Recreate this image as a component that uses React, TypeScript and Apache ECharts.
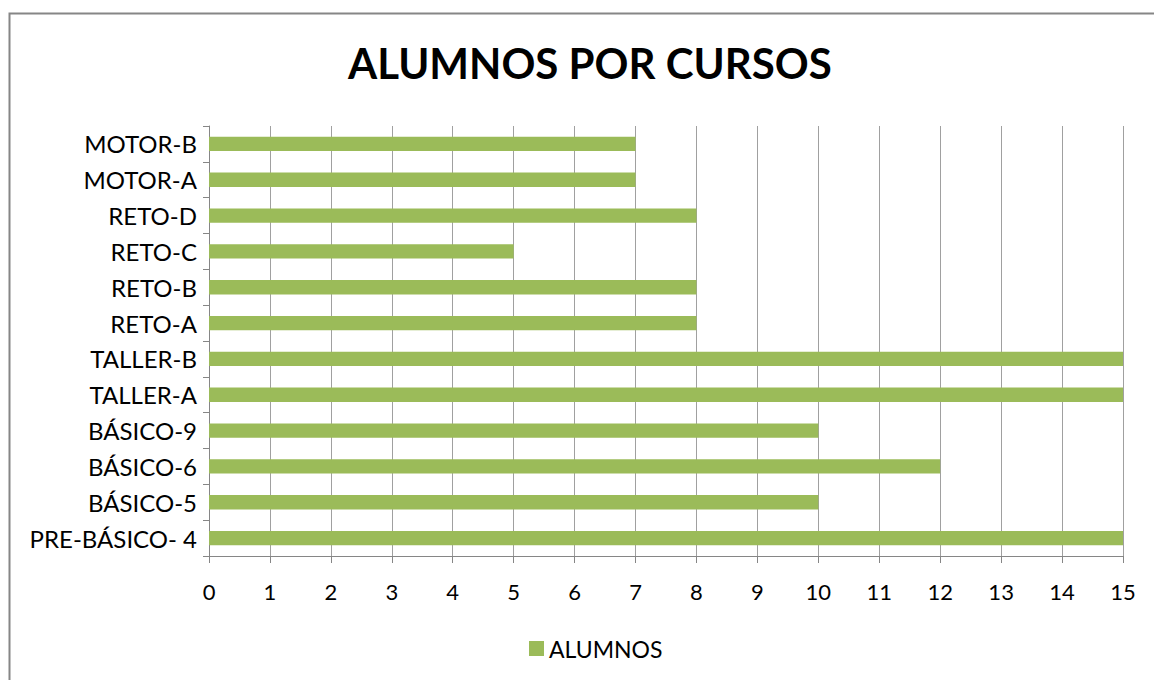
import React, { useEffect, useRef } from "react";
import * as echarts from "echarts";

const categories = [
  "PRE-BÁSICO- 4",
  "BÁSICO-5",
  "BÁSICO-6",
  "BÁSICO-9",
  "TALLER-A",
  "TALLER-B",
  "RETO-A",
  "RETO-B",
  "RETO-C",
  "RETO-D",
  "MOTOR-A",
  "MOTOR-B",
];
const alumnos = [15, 10, 12, 10, 15, 15, 8, 8, 5, 8, 7, 7];
const seriesName = "ALUMNOS";
const titleText = "ALUMNOS POR CURSOS";

const FONT = "Lato, 'Open Sans', sans-serif";

export default function App() {
  const ref = useRef<HTMLDivElement>(null);
  useEffect(() => {
    if (!ref.current) return;
    const chart = echarts.init(ref.current, undefined, { renderer: "svg" });
    chart.setOption({
      animation: false,
      backgroundColor: "#ffffff",
      title: {
        text: titleText,
        left: 343,
        top: 37,
        textStyle: { fontFamily: FONT, fontSize: 42, fontWeight: "bold", color: "#000" },
      },
      legend: {
        data: [seriesName],
        left: 524,
        top: 632,
        icon: "rect",
        itemWidth: 15,
        itemHeight: 15,
        itemGap: 6,
        textStyle: { fontFamily: FONT, fontSize: 23, color: "#000" },
      },
      grid: { left: 209, right: 31, top: 126, bottom: 124, containLabel: false },
      xAxis: {
        type: "value",
        min: 0,
        max: 15,
        interval: 1,
        axisLine: { show: true, lineStyle: { color: "#868686", width: 1 } },
        axisTick: { show: true, length: 7, lineStyle: { color: "#868686" } },
        axisLabel: { fontFamily: FONT, fontSize: 22, color: "#000", margin: 24 },
        splitLine: { show: true, lineStyle: { color: "#a0a0a0", width: 1 } },
      },
      yAxis: {
        type: "category",
        data: categories,
        axisLine: { show: true, lineStyle: { color: "#868686", width: 1 } },
        axisTick: { show: true, length: 6, lineStyle: { color: "#868686" } },
        axisLabel: { fontFamily: FONT, fontSize: 24, color: "#000", margin: 12 },
        splitLine: { show: false },
      },
      series: [
        {
          name: seriesName,
          type: "bar",
          data: alumnos,
          barCategoryGap: "60%",
          itemStyle: { color: "#9bbb59" },
        },
      ],
      graphic: [
        {
          type: "rect",
          shape: { x: 9.5, y: 13.5, width: 1200, height: 700 },
          style: { fill: "none", stroke: "#868686", lineWidth: 2 },
          silent: true,
        },
      ],
    });
    return () => chart.dispose();
  }, []);
  return (
    <div
      ref={ref}
      style={{ position: "fixed", left: 0, top: 0, width: 1154, height: 680 }}
    />
  );
}
